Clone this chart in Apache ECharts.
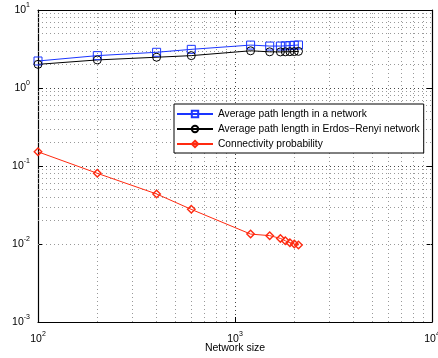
<!DOCTYPE html>
<html><head><meta charset="utf-8">
<script src="https://cdn.jsdelivr.net/npm/echarts@6/dist/echarts.min.js"></script>
<style>html,body{margin:0;padding:0;background:#fff}#c{width:438px;height:358px}</style>
</head><body><div id="c"></div>
<script>
var networkSizes = [100, 200, 400, 600, 1200, 1500, 1700, 1800, 1900, 2000, 2100];
var avgPathLength = [2.22, 2.6, 2.87, 3.13, 3.55, 3.45, 3.45, 3.47, 3.5, 3.53, 3.56];
var erPathLength = [2.01, 2.29, 2.48, 2.6, 3.0, 2.91, 2.9, 2.91, 2.92, 2.93, 2.95];
var connProbability = [0.152, 0.0806, 0.0438, 0.0278, 0.0134, 0.0128, 0.0118, 0.011, 0.0104, 0.01, 0.0097];
var seriesNames = ['Average path length in a network', 'Average path length in Erdos\u2212Renyi network', 'Connectivity probability'];
var xAxisName = 'Network size';
var xMinorGrid = [200,300,400,500,600,700,800,900,2000,3000,4000,5000,6000,7000,8000,9000];
var yMinorGrid = [0.002,0.003,0.004,0.005,0.006,0.007,0.008,0.009,0.02,0.03,0.04,0.05,0.06,0.07,0.08,0.09,0.2,0.3,0.4,0.5,0.6,0.7,0.8,0.9,2,3,4,5,6,7,8,9];

var FONT = 'Liberation Sans, Arial, Helvetica, sans-serif';
function powLabel(v) {
  var e = Math.round(Math.log10(v));
  return '{b|10}{s|' + e + '}';
}
var rich = {
  b: {fontSize: 10.5, fontFamily: FONT, color: '#000'},
  s: {fontSize: 7, fontFamily: FONT, color: '#000', padding: [0, 0, 10, 0]}
};
var chart = echarts.init(document.getElementById('c'), null, {renderer: 'canvas'});
var gridMarks = [];
xMinorGrid.forEach(function (v) { gridMarks.push({xAxis: v}); });
yMinorGrid.forEach(function (v) { gridMarks.push({yAxis: v}); });

chart.setOption({
  animation: false,
  backgroundColor: '#fff',
  grid: {left: 38, right: 6, top: 10, bottom: 36, containLabel: false, outerBoundsMode: 'none'},
  legend: {
    orient: 'vertical', left: 174, top: 104,
    backgroundColor: '#fff', borderColor: '#000', borderWidth: 1,
    padding: [5, 4, 4, 2], itemGap: 5, itemWidth: 36, itemHeight: 8,
    textStyle: {fontSize: 10.2, fontFamily: FONT, color: '#000'},
    data: seriesNames
  },
  xAxis: [{
    type: 'log', logBase: 10, min: 100, max: 10000,
    name: xAxisName, nameLocation: 'middle', nameGap: 21, nameMoveOverlap: false,
    nameTextStyle: {fontSize: 10.5, fontFamily: FONT, color: '#000'},
    axisLine: {lineStyle: {color: '#000', width: 1.2}},
    axisTick: {inside: true, length: 5, lineStyle: {color: '#000'}},
    axisLabel: {formatter: powLabel, rich: rich, margin: 9},
    splitLine: {show: true, lineStyle: {color: '#444', type: [1, 3], width: 1}}
  }, {
    type: 'log', logBase: 10, min: 100, max: 10000, position: 'top',
    axisLine: {lineStyle: {color: '#000', width: 1.2}},
    axisTick: {inside: true, length: 5, lineStyle: {color: '#000'}},
    axisLabel: {show: false}, splitLine: {show: false}
  }],
  yAxis: [{
    type: 'log', logBase: 10, min: 0.001, max: 10,
    axisLine: {lineStyle: {color: '#000', width: 1.2}},
    axisTick: {inside: true, length: 5, lineStyle: {color: '#000'}},
    axisLabel: {formatter: powLabel, rich: rich, margin: 8},
    splitLine: {show: true, lineStyle: {color: '#444', type: [1, 3], width: 1}}
  }, {
    type: 'log', logBase: 10, min: 0.001, max: 10, position: 'right',
    axisLine: {lineStyle: {color: '#000', width: 1.2}},
    axisTick: {inside: true, length: 5, lineStyle: {color: '#000'}},
    axisLabel: {show: false}, splitLine: {show: false}
  }],
  series: [{
    name: seriesNames[0], type: 'line',
    data: networkSizes.map(function (x, i) { return [x, avgPathLength[i]]; }),
    symbol: 'rect', symbolSize: 8, showAllSymbol: true,
    itemStyle: {color: 'rgba(255,255,255,0)', borderColor: '#1a35ff', borderWidth: 1},
    lineStyle: {color: '#1a35ff', width: 1},
    z: 3
  }, {
    name: seriesNames[1], type: 'line',
    data: networkSizes.map(function (x, i) { return [x, erPathLength[i]]; }),
    symbol: 'circle', symbolSize: 8, showAllSymbol: true,
    itemStyle: {color: 'rgba(255,255,255,0)', borderColor: '#000', borderWidth: 1},
    lineStyle: {color: '#000', width: 1},
    z: 3
  }, {
    name: seriesNames[2], type: 'line',
    data: networkSizes.map(function (x, i) { return [x, connProbability[i]]; }),
    symbol: 'diamond', symbolSize: 7.5, showAllSymbol: true,
    itemStyle: {color: 'rgba(255,255,255,0)', borderColor: '#ff2a10', borderWidth: 1.4},
    lineStyle: {color: '#ff2a10', width: 1},
    z: 3,
    markLine: {
      silent: true, symbol: ['none', 'none'], label: {show: false},
      lineStyle: {color: '#999', type: [1, 3], width: 1}, z: 1,
      emphasis: {disabled: true},
      data: gridMarks
    }
  }]
});
</script></body></html>
